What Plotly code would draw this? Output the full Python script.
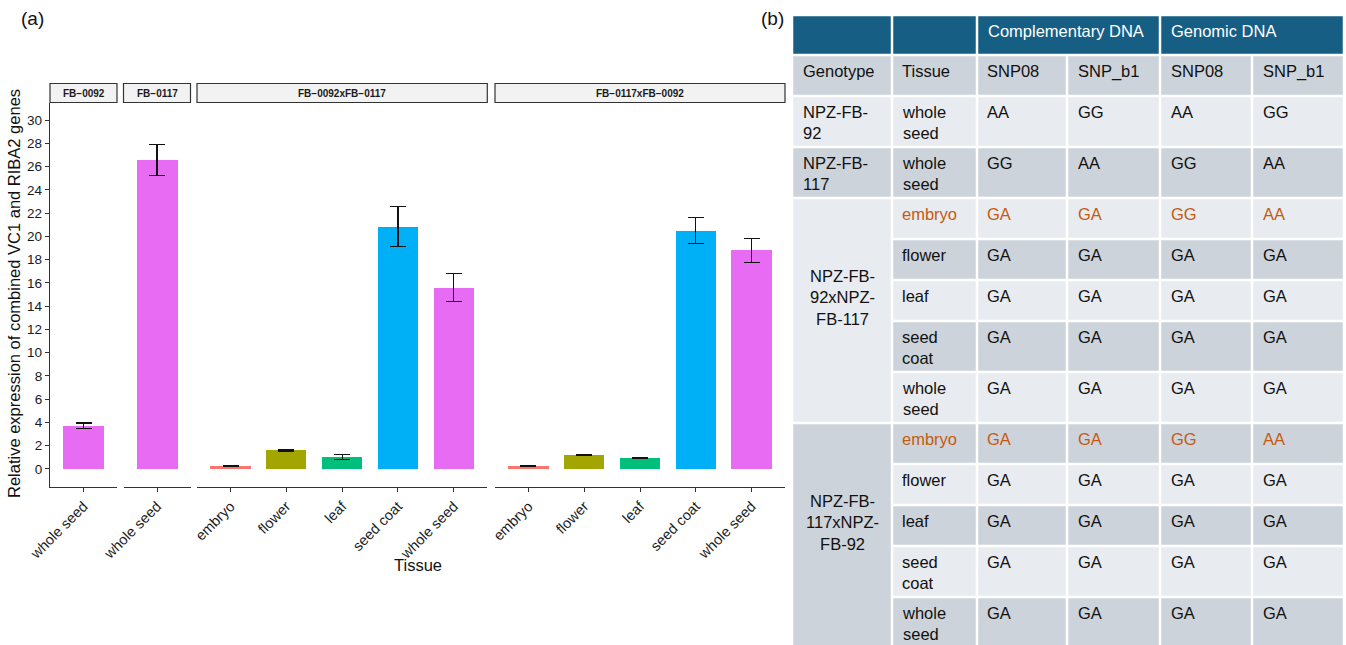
import plotly.graph_objects as go

W, H = 1346, 645
FONT = "Liberation Sans, Arial, sans-serif"

# ---- Expression data, one list per facet ----
facets = ["FB-0092", "FB-0117", "FB-0092xFB-0117", "FB-0117xFB-0092"]
tissues = [
    ["whole seed"],
    ["whole seed"],
    ["embryo", "flower", "leaf", "seed coat", "whole seed"],
    ["embryo", "flower", "leaf", "seed coat", "whole seed"],
]
expr_mean = [
    [3.7],
    [26.6],
    [0.25, 1.62, 1.05, 20.85, 15.6],
    [0.25, 1.22, 0.95, 20.5, 18.8],
]
expr_err = [
    [0.25],
    [1.33],
    [0.03, 0.08, 0.22, 1.75, 1.2],
    [0.03, 0.04, 0.03, 1.1, 1.05],
]
y_ticks = list(range(0, 31, 2))
tissue_colors = {
    "embryo": "#F8766D",
    "flower": "#A3A500",
    "leaf": "#00BF7D",
    "seed coat": "#00B0F6",
    "whole seed": "#E76BF3",
}

# ---- Genotyping table data ----
table_groups = ["Complementary DNA", "Genomic DNA"]
table_columns = ["Genotype", "Tissue", "SNP08", "SNP_b1", "SNP08", "SNP_b1"]
genotypes = ["NPZ-FB-92", "NPZ-FB-117", "NPZ-FB-92xNPZ-FB-117", "NPZ-FB-117xNPZ-FB-92"]
genotype_tissues = [
    ["whole seed"],
    ["whole seed"],
    ["embryo", "flower", "leaf", "seed coat", "whole seed"],
    ["embryo", "flower", "leaf", "seed coat", "whole seed"],
]
# calls per tissue: cDNA SNP08, cDNA SNP_b1, gDNA SNP08, gDNA SNP_b1
genotype_calls = [
    [["AA", "GG", "AA", "GG"]],
    [["GG", "AA", "GG", "AA"]],
    [["GA", "GA", "GG", "AA"], ["GA", "GA", "GA", "GA"], ["GA", "GA", "GA", "GA"],
     ["GA", "GA", "GA", "GA"], ["GA", "GA", "GA", "GA"]],
    [["GA", "GA", "GG", "AA"], ["GA", "GA", "GA", "GA"], ["GA", "GA", "GA", "GA"],
     ["GA", "GA", "GA", "GA"], ["GA", "GA", "GA", "GA"]],
]
highlight_tissue = "embryo"


def px_x(p):
    return p / W


def px_y(p):
    return 1 - p / H


# ---- Faceted bar chart ----
panel_px = [(50, 117), (123.5, 190.5), (197, 487.3), (495, 785)]
plot_top, plot_bottom = 103, 487
strip_top, strip_bottom = 83.5, 102.5
axis_col = "#333333"

fig = go.Figure()
layout_axes = {}
for i, facet in enumerate(facets):
    suffix = "" if i == 0 else str(i + 1)
    fig.add_trace(go.Bar(
        x=tissues[i], y=expr_mean[i],
        marker=dict(color=[tissue_colors[t] for t in tissues[i]], line=dict(width=0)),
        width=0.72,
        error_y=dict(type="data", array=expr_err[i], color="#111111", thickness=1.2, width=8),
        xaxis="x" + suffix, yaxis="y", showlegend=False,
        hovertemplate=facet + "<br>%{x}: %{y}<extra></extra>",
    ))
    a, b = panel_px[i]
    layout_axes["xaxis" + suffix] = dict(
        domain=[px_x(a), px_x(b)], anchor="y", type="category",
        range=[-0.6, len(tissues[i]) - 0.4], automargin=False,
        showline=True, linecolor=axis_col, linewidth=1.3,
        ticks="outside", ticklen=4, tickcolor=axis_col, tickwidth=1.1,
        tickangle=-45, tickfont=dict(size=14.5, color="#1a1a1a", family=FONT),
        showgrid=False, zeroline=False,
    )

layout_axes["yaxis"] = dict(
    domain=[px_y(plot_bottom), px_y(plot_top)], anchor="x",
    range=[-1.55, 31.47], tickvals=y_ticks, automargin=False,
    showline=True, linecolor=axis_col, linewidth=1.3,
    ticks="outside", ticklen=4, tickcolor=axis_col, tickwidth=1.1,
    tickfont=dict(size=13.5, color="#1a1a1a", family=FONT),
    showgrid=False, zeroline=False,
)

shapes = []
annotations = []

# facet strips
for i, facet in enumerate(facets):
    ref = "x" if i == 0 else "x" + str(i + 1)
    shapes.append(dict(
        type="rect", xref=ref + " domain", yref="paper", x0=0, x1=1,
        y0=px_y(strip_bottom), y1=px_y(strip_top),
        fillcolor="#F2F2F2", line=dict(color=axis_col, width=1.2), layer="above",
    ))
    annotations.append(dict(
        xref=ref + " domain", yref="paper", x=0.5, y=px_y((strip_top + strip_bottom) / 2),
        text=facet.replace("-", "\u2212"), showarrow=False,
        font=dict(size=10, color="#1a1a1a", family=FONT, weight="bold"),
        xanchor="center", yanchor="middle",
    ))

annotations += [
    dict(xref="paper", yref="paper", x=px_x(14), y=px_y(294),
         text="Relative expression of combined VC1 and RIBA2 genes", textangle=-90,
         showarrow=False, font=dict(size=16.5, color="#111111", family=FONT),
         xanchor="center", yanchor="middle"),
    dict(xref="paper", yref="paper", x=px_x(417.5), y=px_y(565), text="Tissue",
         showarrow=False, font=dict(size=16.5, color="#111111", family=FONT),
         xanchor="center", yanchor="middle"),
    dict(xref="paper", yref="paper", x=px_x(19), y=px_y(19), text="(a)",
         showarrow=False, font=dict(size=19, color="#111111", family=FONT),
         xanchor="left", yanchor="middle"),
    dict(xref="paper", yref="paper", x=px_x(759), y=px_y(18), text="(b)",
         showarrow=False, font=dict(size=19, color="#111111", family=FONT),
         xanchor="left", yanchor="middle"),
]

# ---- Table ----
col_left = 792
col_widths = [100, 85, 90, 93, 92, 92]
col_edges = [col_left]
for w in col_widths:
    col_edges.append(col_edges[-1] + w)
header_h, single_h, double_h = 40, 41, 51
gap = 1.25
pad_x, pad_top = 8.5, 5.0
header_fill = "#165E83"
dark_fill = "#CDD3DA"
light_fill = "#E8EBEF"
text_col = "#111111"
highlight_col = "#C55A11"
TFS = 16.5


def wrap(text, max_chars):
    parts = []
    for word in text.split(" "):
        piece = ""
        for ch in word:
            piece += ch
            if ch == "-":
                parts.append((piece, ""))
                piece = ""
        if piece:
            parts.append((piece, " "))
    lines, cur = [], ""
    prev_sep = ""
    for piece, sep in parts:
        cand = cur + prev_sep + piece if cur else piece
        if len(cand) <= max_chars or not cur:
            cur = cand
        else:
            lines.append(cur)
            cur = piece
        prev_sep = sep
    lines.append(cur)
    return lines


def cell(c0, span, top, height, fill):
    shapes.append(dict(
        type="rect", xref="paper", yref="paper",
        x0=px_x(col_edges[c0] + gap), x1=px_x(col_edges[c0 + span] - gap),
        y0=px_y(top + height - gap), y1=px_y(top + gap),
        fillcolor=fill, line=dict(width=0), layer="below",
    ))


def text_at(x, y, lines, color, xanchor="left", yanchor="top", align="left"):
    annotations.append(dict(
        xref="paper", yref="paper", x=px_x(x), y=px_y(y),
        text="<br>".join(lines), showarrow=False, align=align,
        font=dict(size=TFS, color=color, family=FONT),
        xanchor=xanchor, yanchor=yanchor,
    ))


y = 15
# group header row
cell(0, 1, y, header_h, header_fill)
cell(1, 1, y, header_h, header_fill)
for g, name in enumerate(table_groups):
    c0 = 2 + 2 * g
    cell(c0, 2, y, header_h, header_fill)
    text_at(col_edges[c0] + pad_x, y + pad_top, [name], "white")
y += header_h

# column name row
row_idx = 0
for c, name in enumerate(table_columns):
    cell(c, 1, y, single_h, dark_fill)
    text_at(col_edges[c] + pad_x, y + pad_top, [name], text_col)
y += single_h
row_idx += 1

for g, geno in enumerate(genotypes):
    group_top = y
    group_fill = light_fill if row_idx % 2 == 1 else dark_fill
    geno_lines = wrap(geno, 8)
    for t, tissue in enumerate(genotype_tissues[g]):
        t_lines = wrap(tissue, 6)
        h = double_h if len(t_lines) > 1 or (len(genotype_tissues[g]) == 1 and len(geno_lines) > 1) else single_h
        fill = light_fill if row_idx % 2 == 1 else dark_fill
        color = highlight_col if tissue == highlight_tissue else text_col
        cell(1, 1, y, h, fill)
        text_at(col_edges[1] + pad_x, y + pad_top, t_lines, color)
        for k, call in enumerate(genotype_calls[g][t]):
            cell(2 + k, 1, y, h, fill)
            text_at(col_edges[2 + k] + pad_x, y + pad_top, [call], color)
        y += h
        row_idx += 1
    group_h = y - group_top
    cell(0, 1, group_top, group_h, group_fill)
    if len(genotype_tissues[g]) == 1:
        text_at(col_edges[0] + pad_x, group_top + pad_top, geno_lines, text_col)
    else:
        text_at((col_edges[0] + col_edges[1]) / 2, group_top + group_h / 2 - 13,
                geno_lines, text_col, xanchor="center", yanchor="middle", align="center")

fig.update_layout(
    width=W, height=H,
    margin=dict(l=0, r=0, t=0, b=0, autoexpand=False),
    paper_bgcolor="white", plot_bgcolor="white",
    font=dict(family=FONT),
    shapes=shapes, annotations=annotations,
    bargap=0, **layout_axes,
)

fig.write_html("out.html")
